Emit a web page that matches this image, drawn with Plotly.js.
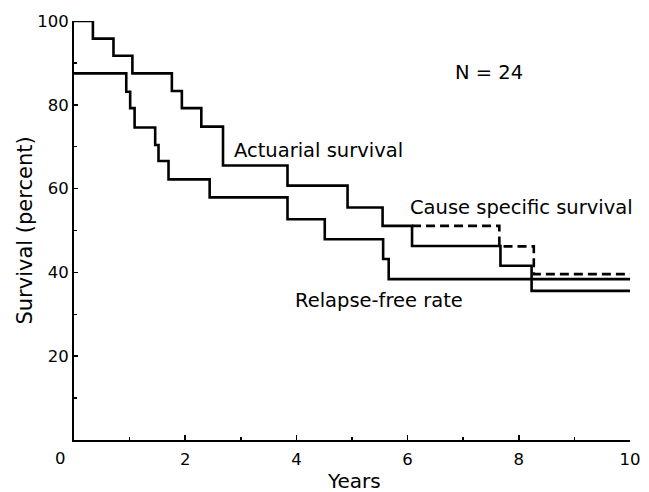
<!DOCTYPE html>
<html>
<head>
<meta charset="utf-8">
<script src="https://cdn.plot.ly/plotly-3.0.1.min.js"></script>
<style>html,body{margin:0;padding:0;background:#fff;}</style>
</head>
<body>
<div id="chart" style="width:649px;height:492px;"></div>
<script>
// Actuarial survival (solid, upper)
const actuarialYears = [0, 0.34, 0.71, 1.05, 1.76, 1.94, 2.29, 2.68, 3.84, 4.92, 5.55, 6.08, 7.67, 8.23, 10];
const actuarialPct   = [100, 95.8, 91.7, 87.5, 83.3, 79.2, 74.8, 65.5, 60.7, 55.5, 51.1, 46.3, 41.6, 35.6, 35.6];
// Cause specific survival (dashed, where it departs from actuarial)
const causeYears = [6.08, 7.65, 8.27, 10];
const causePct   = [51.1, 46.2, 39.6, 39.6];
// Relapse-free rate (solid, lower)
const relapseYears = [0, 0.94, 1.01, 1.09, 1.46, 1.52, 1.70, 2.44, 3.84, 4.51, 5.56, 5.66, 10];
const relapsePct   = [87.5, 83.1, 79.2, 74.6, 70.4, 66.6, 62.2, 57.9, 52.7, 47.9, 43.2, 38.4, 38.4];
// Ticks
const xMajor = [2, 4, 6, 8, 10];
const xMinor = [1, 3, 5, 7, 9];
const yMajor = [20, 40, 60, 80, 100];
const yMinor = [10, 30, 50, 70, 90];

const FONT = 'DejaVu Sans, Liberation Sans, Arial, sans-serif';
const LW = 2.6;

const traces = [
  {x: relapseYears, y: relapsePct, mode: 'lines', line: {shape: 'hv', color: '#000', width: LW}, cliponaxis: false},
  {x: causeYears, y: causePct, mode: 'lines', line: {shape: 'hv', color: '#000', width: LW, dash: '9px,5px'}, cliponaxis: false},
  {x: actuarialYears, y: actuarialPct, mode: 'lines', line: {shape: 'hv', color: '#000', width: LW}, cliponaxis: false}
];

const layout = {
  width: 649, height: 492, autosize: false,
  margin: {l: 74, r: 19, t: 21, b: 52, pad: 0},
  paper_bgcolor: '#fff', plot_bgcolor: '#fff',
  showlegend: false,
  font: {family: FONT, color: '#000', size: 16},
  xaxis: {
    range: [0, 10], showgrid: false, zeroline: false,
    showline: true, linecolor: '#000', linewidth: 2,
    tickmode: 'array', tickvals: xMajor, ticktext: xMajor.map(String),
    ticks: 'inside', ticklen: 5, tickwidth: 1.5, tickcolor: '#000',
    ticklabelstandoff: 3,
    tickfont: {family: FONT, size: 16.5, color: '#000'},
    minor: {tickmode: 'array', tickvals: xMinor, ticks: 'inside', ticklen: 3, tickwidth: 1.5, tickcolor: '#000', showgrid: false},
    fixedrange: true
  },
  yaxis: {
    range: [0, 100], showgrid: false, zeroline: false,
    showline: true, linecolor: '#000', linewidth: 2,
    tickmode: 'array', tickvals: yMajor, ticktext: yMajor.map(String),
    ticks: 'inside', ticklen: 4, tickwidth: 1.5, tickcolor: '#000',
    tickfont: {family: FONT, size: 16.5, color: '#000'},
    minor: {tickmode: 'array', tickvals: yMinor, ticks: 'inside', ticklen: 3, tickwidth: 1.5, tickcolor: '#000', showgrid: false},
    fixedrange: true
  },
  annotations: [
    {text: 'N = 24', x: 6.817, y: 87.7, xref: 'x', yref: 'y', xanchor: 'left', yanchor: 'middle', showarrow: false, font: {family: FONT, size: 19.5, color: '#000'}},
    {text: 'Actuarial survival', x: 2.842, y: 69.2, xref: 'x', yref: 'y', xanchor: 'left', yanchor: 'middle', showarrow: false, font: {family: FONT, size: 19.5, color: '#000'}},
    {text: 'Cause specific survival', x: 6.007, y: 55.6, xref: 'x', yref: 'y', xanchor: 'left', yanchor: 'middle', showarrow: false, font: {family: FONT, size: 19.5, color: '#000'}},
    {text: 'Relapse-free rate', x: 3.93, y: 33.4, xref: 'x', yref: 'y', xanchor: 'left', yanchor: 'middle', showarrow: false, font: {family: FONT, size: 19.5, color: '#000'}},
    {text: 'Survival (percent)', x: -0.0899, y: 0.5, xref: 'paper', yref: 'paper', xanchor: 'center', yanchor: 'middle', textangle: -90, showarrow: false, font: {family: FONT, size: 21, color: '#000'}},
    {text: 'Years', x: 0.5036, y: -0.0979, xref: 'paper', yref: 'paper', xanchor: 'center', yanchor: 'middle', showarrow: false, font: {family: FONT, size: 20, color: '#000'}},
    {text: '0', x: -0.0239, y: -0.0453, xref: 'paper', yref: 'paper', xanchor: 'center', yanchor: 'middle', showarrow: false, font: {family: FONT, size: 16.5, color: '#000'}}
  ]
};

Plotly.newPlot('chart', traces, layout, {displayModeBar: false, staticPlot: true});
</script>
</body>
</html>
